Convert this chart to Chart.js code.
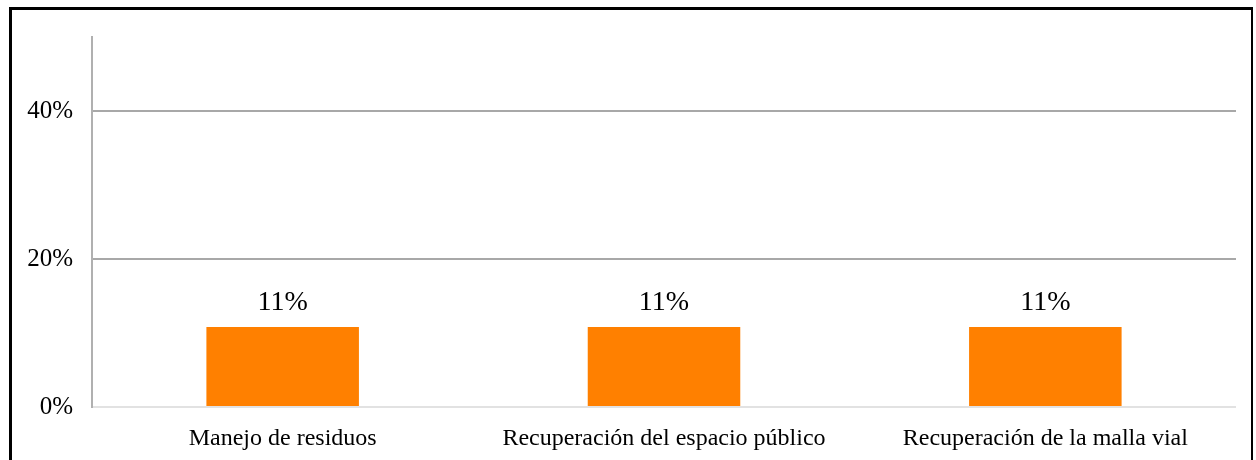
<!DOCTYPE html>
<html>
<head>
<meta charset="utf-8">
<script src="https://cdn.jsdelivr.net/npm/chart.js@4"></script>
<style>
  html, body { margin: 0; padding: 0; background: #fff; }
  #wrap { position: relative; width: 1256px; height: 460px; overflow: hidden; }
  #frame { position: absolute; left: 9px; top: 7px; right: 3px; bottom: -10px;
           border-top: 3px solid #000; border-left: 3px solid #000; border-right: 2px solid #000; }
  canvas { position: absolute; left: 0; top: 0; }
</style>
</head>
<body>
<div id="wrap">
  <div id="frame"></div>
  <canvas id="chart" width="1256" height="460"></canvas>
</div>
<script>
// datos del gráfico
const categorias = ['Manejo de residuos', 'Recuperación del espacio público', 'Recuperación de la malla vial'];
const valores = [10.8, 10.8, 10.8];
const etiquetas = ['11%', '11%', '11%'];
const ticksY = [0, 20, 40];

const fuente = "'Liberation Serif', 'Times New Roman', serif";

// etiquetas encima de las barras
const etiquetasBarras = {
    id: 'etiquetasBarras',
    afterDatasetsDraw(chart) {
        const c = chart.ctx;
        const meta = chart.getDatasetMeta(0);
        c.save();
        c.font = '28px ' + fuente;
        c.fillStyle = '#000';
        c.textAlign = 'center';
        c.textBaseline = 'alphabetic';
        meta.data.forEach((bar, i) => {
            c.fillText(etiquetas[i], bar.x, bar.y - 17);
        });
        c.restore();
    }
};

const ctx = document.getElementById('chart').getContext('2d');
new Chart(ctx, {
    type: 'bar',
    data: {
        labels: categorias,
        datasets: [{
            data: valores,
            backgroundColor: '#FF8000',
            borderWidth: 0,
            barPercentage: 0.4,
            categoryPercentage: 1
        }]
    },
    options: {
        responsive: false,
        animation: false,
        layout: { padding: { left: 0, right: 20, top: 37, bottom: 0 } },
        plugins: { legend: { display: false }, tooltip: { enabled: false } },
        scales: {
            x: {
                grid: { display: false },
                border: { display: false },
                ticks: { color: '#000', font: { family: fuente, size: 24 }, padding: 9, maxRotation: 0 },
                afterFit(scale) { scale.height = 53; }
            },
            y: {
                min: 0,
                max: 50,
                afterBuildTicks(scale) { scale.ticks = ticksY.map(v => ({ value: v })); },
                afterFit(scale) { scale.width = 92; },
                border: { display: true, color: '#b0b0b0', width: 2 },
                grid: {
                    drawTicks: false,
                    lineWidth: 2,
                    color: c => c.tick && c.tick.value === 0 ? '#e2e2e2' : '#a8a8a8'
                },
                ticks: {
                    color: '#000',
                    padding: 19,
                    font: { family: fuente, size: 25 },
                    callback: v => v + '%'
                }
            }
        }
    },
    plugins: [etiquetasBarras]
});
</script>
</body>
</html>
